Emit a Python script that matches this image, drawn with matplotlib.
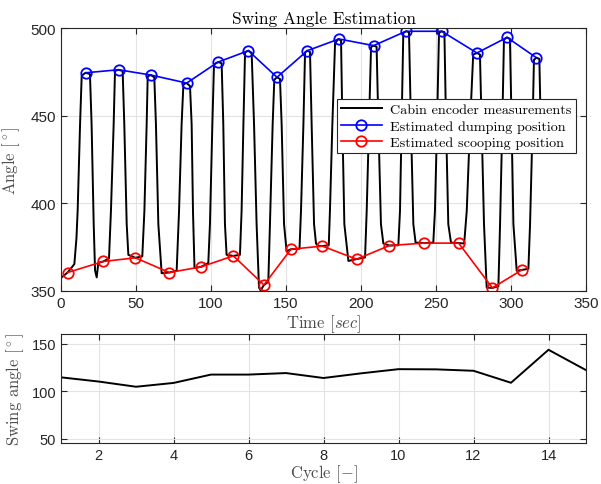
import matplotlib
matplotlib.use("Agg")
import matplotlib.pyplot as plt

# cabin encoder signal, breakpoints (time [s], angle [deg])
encoder_time = [
    0.4, 4.4, 8.9, 10.3, 11.1, 12.7, 13.8, 16.4, 19.3, 20.4, 21.8, 22.7, 23.8, 24.9,
    28.2, 32.0, 33.3, 35.1, 36.0, 38.2, 41.1, 42.2, 43.8, 44.9,
    49.6, 54.2, 55.6, 57.1, 57.8, 59.8, 62.2, 63.3, 64.9, 67.1,
    72.2, 77.1, 78.7, 80.4, 81.6, 83.8, 86.0, 87.1, 88.0, 89.0,
    93.3, 98.2, 99.3, 100.9, 102.0, 104.7, 107.1, 108.2, 109.3, 110.4,
    114.9, 119.3, 120.4, 121.6, 122.7, 124.9, 127.1, 128.7, 130.4, 132.0, 133.1,
    135.3, 138.2, 139.3, 141.1, 142.2, 144.0, 146.0, 147.1, 148.7, 150.4,
    153.3, 159.0, 160.0, 161.6, 162.7, 164.2, 166.0, 167.1, 168.7, 170.0, 171.5,
    174.2, 178.5, 179.3, 180.9, 182.7, 184.9, 186.7, 187.6, 188.9, 191.6,
    196.7, 202.7, 203.8, 205.3, 206.7, 208.2, 210.4, 211.6, 213.3, 214.9,
    218.9, 224.9, 226.0, 227.1, 228.2, 230.0, 232.0, 233.3, 234.9, 236.4,
    242.0, 248.2, 249.3, 250.7, 252.0, 253.8, 255.6, 256.7, 258.2, 260.0,
    265.1, 268.8, 270.5, 272.7, 274.8, 277.3, 279.3, 280.4, 282.0, 283.8,
    287.6, 291.6, 292.7, 294.2, 295.3, 297.3, 299.3, 300.4, 301.6, 303.8,
    307.3, 311.6, 312.7, 314.4, 315.3, 316.9, 318.9, 319.8,
]
encoder_angle = [
    357.6, 360.4, 365.2, 380.0, 395.7, 445.0, 472.9, 474.6, 473.8, 445.0, 388.0, 361.6, 357.6, 366.0,
    366.7, 368.5, 395.7, 445.0, 475.6, 476.3, 475.6, 445.0, 388.0, 370.5,
    368.8, 369.6, 395.7, 445.0, 472.5, 473.3, 472.0, 445.0, 388.0, 360.0,
    360.4, 361.4, 395.7, 445.0, 468.0, 468.7, 467.0, 445.0, 395.0, 363.0,
    363.6, 365.8, 388.0, 445.0, 479.5, 480.7, 480.0, 445.0, 388.0, 370.5,
    369.9, 370.5, 395.7, 445.0, 486.3, 487.2, 486.0, 445.0, 388.0, 351.8, 350.2,
    353.3, 355.0, 388.0, 445.0, 470.6, 472.0, 471.0, 445.0, 388.0, 372.5,
    373.7, 374.0, 395.7, 445.0, 486.3, 487.2, 486.5, 445.0, 388.0, 377.0, 375.5,
    375.5, 376.0, 395.7, 445.0, 491.5, 493.9, 493.0, 445.0, 388.0, 367.0,
    368.0, 369.0, 395.7, 445.0, 489.2, 490.1, 489.5, 445.0, 388.0, 377.0,
    375.8, 376.0, 395.7, 445.0, 497.4, 498.3, 497.8, 445.0, 388.0, 377.5,
    377.2, 377.5, 395.7, 445.0, 497.4, 498.3, 497.8, 445.0, 388.0, 377.5,
    377.2, 377.0, 395.7, 445.0, 485.0, 485.9, 485.0, 445.0, 388.0, 351.8,
    351.6, 352.5, 388.0, 445.0, 493.5, 494.8, 494.0, 445.0, 388.0, 361.4,
    361.9, 362.5, 388.0, 445.0, 482.0, 483.2, 482.5, 445.0,
]

dump_time = [16.7, 38.4, 59.8, 83.8, 104.7, 124.9, 144.0, 164.2, 185.3, 208.4, 230.0, 253.8, 277.3, 297.3, 316.9]
dump_angle = [474.6, 476.3, 473.3, 468.7, 480.7, 487.2, 472.0, 487.2, 493.9, 490.1, 498.3, 498.3, 485.9, 494.8, 483.2]

scoop_time = [4.4, 28.2, 49.6, 72.2, 93.3, 114.9, 135.3, 153.3, 174.2, 197.1, 218.9, 242.0, 265.1, 287.6, 307.3]
scoop_angle = [360.4, 366.7, 368.8, 360.4, 363.6, 369.9, 353.3, 373.7, 375.5, 368.0, 375.8, 377.2, 377.2, 351.6, 361.9]

cycles = list(range(1, 16))
swing = [114.4, 110.0, 104.5, 108.5, 117.3, 117.3, 118.9, 113.7, 118.6, 123.0, 122.8, 121.3, 108.7, 143.4, 122.0]

plt.rcParams['mathtext.fontset'] = 'cm'
plt.rcParams['font.family'] = ['Liberation Sans', 'DejaVu Sans']
plt.rcParams['axes.unicode_minus'] = False

serif = 'cmr10'
dark = '#262626'
label_grey = '#4d4d4d'
grid_col = '#e3e3e3'

fig = plt.figure(figsize=(6.01, 4.85), dpi=100)
ax1 = fig.add_axes([61 / 601, 1 - 291.7 / 485, 525 / 601, 262.4 / 485])
ax2 = fig.add_axes([61 / 601, 1 - 444.3 / 485, 525 / 601, 109.3 / 485])


def matlab_style(ax, size):
    ax.grid(True, color=grid_col, linewidth=0.8)
    ax.set_axisbelow(True)
    for s in ax.spines.values():
        s.set_color(dark)
        s.set_linewidth(0.8)
    ax.tick_params(direction='in', top=True, right=True, length=4, width=0.8,
                   colors=dark, labelsize=size, labelcolor=dark)


ax1.plot(encoder_time, encoder_angle, color='black', linewidth=1.4,
         label='Cabin encoder measurements')
ax1.plot(dump_time, dump_angle, '-o', color='#0000ff', linewidth=1.2,
         markersize=7.5, markerfacecolor='none', markeredgewidth=1.3,
         label='Estimated dumping position')
ax1.plot(scoop_time, scoop_angle, '-o', color='#ff0000', linewidth=1.2,
         markersize=7.5, markerfacecolor='none', markeredgewidth=1.3,
         label='Estimated scooping position')
ax1.set_xlim(0, 350)
ax1.set_ylim(350, 500)
ax1.set_xticks(range(0, 351, 50))
ax1.set_yticks([350, 400, 450, 500])
matlab_style(ax1, 11)
ax1.set_title('Swing Angle Estimation', fontfamily=serif, fontsize=12.5, pad=4)
ax1.set_xlabel('Time $[sec]$', fontfamily=serif, fontsize=12, color=label_grey, labelpad=2)
ax1.set_ylabel(r'Angle $[^\circ]$', fontfamily=serif, fontsize=12, color=label_grey, labelpad=6)

leg = ax1.legend(loc='upper right', bbox_to_anchor=(0.981, 0.7306), borderaxespad=0,
                 prop={'family': serif, 'size': 10.2}, fancybox=False, framealpha=1,
                 edgecolor=dark, handlelength=2.9, borderpad=0.3, labelspacing=0.25,
                 handletextpad=0.6)
leg.get_frame().set_linewidth(0.8)

ax2.plot(cycles, swing, color='black', linewidth=1.4)
ax2.set_xlim(1, 15)
ax2.set_ylim(45, 160)
ax2.set_xticks(range(2, 15, 2))
ax2.set_yticks([50, 100, 150])
matlab_style(ax2, 10.5)
ax2.set_xlabel('Cycle $[-]$', fontfamily=serif, fontsize=12, color=label_grey, labelpad=0)
ax2.set_ylabel(r'Swing angle $[^\circ]$', fontfamily=serif, fontsize=12, color=label_grey, labelpad=4)

fig.savefig('out.png', dpi=100)
